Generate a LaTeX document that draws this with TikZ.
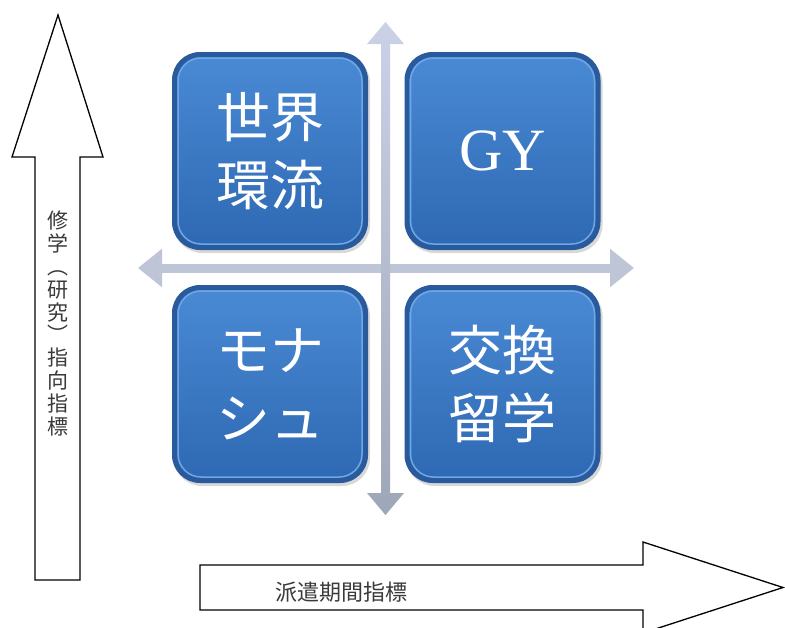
\documentclass[tikz,border=0pt]{standalone}
\usepackage{fontspec}
\newfontfamily\cjk{Noto Sans CJK JP}
\newfontfamily\gyfont{Liberation Serif}
\usetikzlibrary{arrows.meta,shadows,calc}
\definecolor{boxedge}{HTML}{285A9C}
\definecolor{boxtop}{HTML}{4A8AD5}
\definecolor{boxbot}{HTML}{2E68B2}
\definecolor{boxring}{HTML}{6FA6E6}
\definecolor{axvtop}{HTML}{CBD2E8}
\definecolor{axvbot}{HTML}{9DA7B8}
\definecolor{axh}{HTML}{BEC5D7}
\definecolor{txt}{HTML}{3A3A3A}
\tikzset{
  qbox/.style={rounded corners=28pt, minimum width=196pt, minimum height=198pt,
    inner sep=0pt, text=white, fill=boxedge, draw=none, align=center,
    drop shadow={shadow xshift=2pt, shadow yshift=-3pt, fill=black!25, opacity=0.6},
    path picture={
      \shade[top color=boxtop, bottom color=boxbot, rounded corners=24pt]
        ([shift={(5pt,5pt)}]path picture bounding box.south west) rectangle
        ([shift={(-5pt,-5pt)}]path picture bounding box.north east);
      \draw[boxring, line width=1.5pt, rounded corners=23pt]
        ([shift={(6pt,6pt)}]path picture bounding box.south west) rectangle
        ([shift={(-6pt,-6pt)}]path picture bounding box.north east);
    }},
  boxtext/.style={font=\cjk\fontsize{54}{68}\selectfont},
  axish/.style={draw=axh, line width=9pt,
    {Triangle[width=37pt,length=24pt]}-{Triangle[width=37pt,length=24pt]}},
  bigarrow/.style={draw=black, line width=1.3pt, fill=white, line join=miter},
  sidetext/.style={text=txt, inner sep=0pt}
}
\begin{document}
\begin{tikzpicture}[x=1pt,y=-1pt]
\useasboundingbox (0,0) rectangle (785,627);
\clip (0,0) rectangle (785,627);
\fill[white] (0,0) rectangle (785,627);

% left big arrow
\coordinate (ltip) at (58,15);
\draw[bigarrow] (ltip) -- (103,157) -- (80,157) -- (80,580) -- (35,580) -- (35,157) -- (12,157) -- cycle;
\node[sidetext, font=\cjk\fontsize{21}{22.8}\selectfont, align=center] (vlabel) at (58,323.5)
  {修\\学\\︵\\研\\究\\︶\\指\\向\\指\\標};

% bottom big arrow
\coordinate (btip) at (783,587.5);
\draw[bigarrow] (200,565) -- (643,565) -- (643,542) -- (btip) -- (643,633) -- (643,610) -- (200,610) -- cycle;
\node[sidetext, font=\cjk\fontsize{22}{22}\selectfont, anchor=west] (hlabel) at (275,592) {派遣期間指標};

% axes
\coordinate (vt) at (385.5,22);
\coordinate (vb) at (385.5,515);
\coordinate (hl) at (138,268);
\coordinate (hr) at (634,268);
\draw[axish] (hl) -- (hr);
\shade[top color=axvtop, bottom color=axvbot]
  (vt) -- ($(vt)+(18.5,22)$) -- ($(vt)+(4.5,22)$) -- ($(vb)+(4.5,-22)$) -- ($(vb)+(18.5,-22)$)
  -- (vb) -- ($(vb)+(-18.5,-22)$) -- ($(vb)+(-4.5,-22)$) -- ($(vt)+(-4.5,22)$) -- ($(vt)+(-18.5,22)$) -- cycle;

% quadrant boxes
\node[qbox, boxtext] (sekai) at (270,151) {世界\\環流};
\node[qbox, font=\gyfont\fontsize{60}{60}\selectfont] (gy) at (502.5,151) {GY};
\node[qbox, boxtext] (monash) at (270,384) {モナ\\シュ};
\node[qbox, boxtext] (koukan) at (502.5,384) {交換\\留学};
\end{tikzpicture}
\end{document}
